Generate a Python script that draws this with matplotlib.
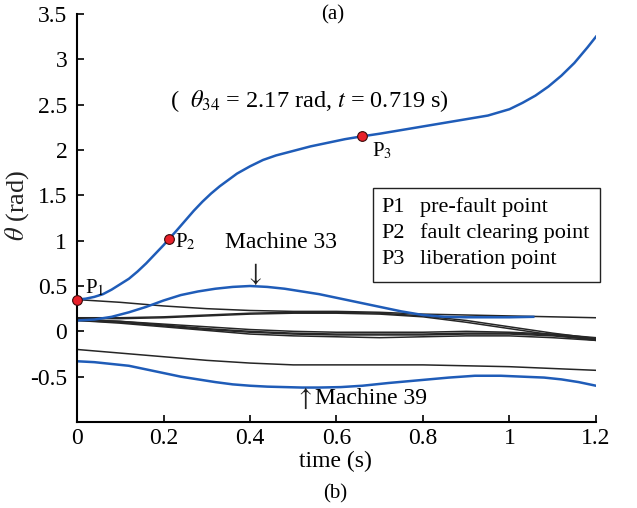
import numpy as np
import matplotlib
matplotlib.use('Agg')
import matplotlib.pyplot as plt
from matplotlib.patches import Rectangle

plt.rcParams['font.family'] = ['Liberation Serif', 'DejaVu Serif']
plt.rcParams['mathtext.fontset'] = 'stix'

# Machine 34 (the unstable one)
t34 = [0.00, 0.02, 0.04, 0.06, 0.08, 0.10, 0.12, 0.14, 0.16, 0.18, 0.20, 0.213, 0.23,
       0.25, 0.27, 0.29, 0.31, 0.33, 0.35, 0.37, 0.40, 0.43, 0.46, 0.50, 0.54, 0.58,
       0.62, 0.658, 0.70, 0.75, 0.80, 0.85, 0.90, 0.95, 1.00, 1.03, 1.06, 1.09, 1.12,
       1.15, 1.18, 1.20]
th34 = [0.35, 0.36, 0.38, 0.41, 0.46, 0.52, 0.58, 0.66, 0.75, 0.85, 0.95, 1.02, 1.11,
        1.22, 1.33, 1.43, 1.52, 1.60, 1.67, 1.74, 1.82, 1.89, 1.94, 1.99, 2.04, 2.08,
        2.12, 2.15, 2.18, 2.22, 2.26, 2.30, 2.34, 2.38, 2.45, 2.52, 2.60, 2.70, 2.82,
        2.96, 3.13, 3.25]

# Machine 33
t33 = [0.00, 0.04, 0.08, 0.12, 0.16, 0.20, 0.24, 0.28, 0.32, 0.36, 0.40, 0.44, 0.48,
       0.52, 0.56, 0.60, 0.65, 0.70, 0.75, 0.80, 0.85, 0.90, 0.95, 1.00, 1.055]
th33 = [0.12, 0.13, 0.16, 0.21, 0.27, 0.34, 0.40, 0.44, 0.47, 0.49, 0.50, 0.49, 0.47,
        0.44, 0.41, 0.37, 0.32, 0.27, 0.22, 0.18, 0.16, 0.155, 0.155, 0.155, 0.16]

# Machine 39
t39 = [0.00, 0.04, 0.08, 0.12, 0.16, 0.20, 0.24, 0.28, 0.32, 0.36, 0.40, 0.44, 0.48,
       0.52, 0.56, 0.61, 0.66, 0.72, 0.79, 0.86, 0.92, 0.98, 1.03, 1.08, 1.12, 1.16, 1.20]
th39 = [-0.33, -0.34, -0.36, -0.38, -0.42, -0.46, -0.50, -0.53, -0.56, -0.585, -0.60,
        -0.61, -0.615, -0.62, -0.62, -0.615, -0.60, -0.57, -0.54, -0.51, -0.49, -0.49,
        -0.50, -0.51, -0.53, -0.56, -0.60]

# remaining machines
t_other = [0.0, 0.1, 0.2, 0.3, 0.4, 0.5, 0.6, 0.7, 0.8, 0.9, 1.0, 1.1, 1.2]
th_other = [
    [0.35, 0.32, 0.28, 0.25, 0.23, 0.22, 0.22, 0.21, 0.19, 0.18, 0.17, 0.16, 0.15],
    [0.15, 0.15, 0.16, 0.18, 0.20, 0.21, 0.21, 0.20, 0.17, 0.12, 0.05, -0.02, -0.08],
    [0.14, 0.14, 0.15, 0.17, 0.19, 0.20, 0.20, 0.19, 0.16, 0.10, 0.03, -0.04, -0.10],
    [0.13, 0.11, 0.08, 0.05, 0.02, 0.00, -0.01, -0.01, -0.01, 0.00, -0.01, -0.03, -0.07],
    [0.12, 0.10, 0.06, 0.02, -0.01, -0.03, -0.04, -0.04, -0.04, -0.03, -0.03, -0.05, -0.09],
    [0.12, 0.09, 0.05, 0.01, -0.03, -0.05, -0.06, -0.07, -0.06, -0.05, -0.05, -0.07, -0.10],
    [0.13, 0.11, 0.07, 0.03, 0.00, -0.02, -0.03, -0.03, -0.03, -0.02, -0.02, -0.04, -0.08],
    [-0.20, -0.24, -0.28, -0.32, -0.35, -0.37, -0.37, -0.37, -0.37, -0.38, -0.39, -0.41, -0.43],
]

# marked points P1..P3 on machine 34
pt_t = [0.0, 0.213, 0.658]
pt_th = [0.35, 1.02, 2.15]

xticks = [0, 0.2, 0.4, 0.6, 0.8, 1, 1.2]
xtick_labels = ['0', '0.2', '0.4', '0.6', '0.8', '1', '1.2']
yticks = [-0.5, 0, 0.5, 1, 1.5, 2, 2.5, 3, 3.5]
ytick_labels = ['-0.5', '0', '0.5', '1', '1.5', '2', '2.5', '3', '3.5']

legend_keys = ['P1', 'P2', 'P3']
legend_desc = ['pre-fault point', 'fault clearing point', 'liberation point']

blue = '#1f5cb8'

fig = plt.figure(figsize=(6.37, 5.08), dpi=100)
ax = fig.add_axes([0.1209, 0.1693, 0.8147, 0.8031])

for th in th_other:
    ax.plot(t_other, th, color='#262626', lw=1.1)
ax.plot(t33, th33, color=blue, lw=1.8)
ax.plot(t39, th39, color=blue, lw=1.8)
ax.plot(t34, th34, color=blue, lw=1.8)
ax.plot(pt_t, pt_th, 'o', color='#e8202a', mec='#3a0a0a', mew=0.8, ms=7, clip_on=False, zorder=5)

ax.set_xlim(0, 1.2)
ax.set_ylim(-1, 3.5)
ax.set_xticks(xticks)
ax.set_xticklabels(xtick_labels)
ax.set_yticks(yticks)
ax.set_yticklabels(ytick_labels)
ax.tick_params(direction='in', length=5, width=1.2, labelsize=17)
ax.tick_params(axis='y', pad=7)
ax.tick_params(axis='x', pad=4)
for s in ['top', 'right']:
    ax.spines[s].set_visible(False)
for s in ['left', 'bottom']:
    ax.spines[s].set_linewidth(1.5)

ax.set_ylabel(r'$\theta$ (rad)', fontsize=19, color='#222222')
ax.yaxis.set_label_coords(-0.088, 0.532)

# point labels and annotations
ax.text(0.018, 0.36, r'P$_1$', fontsize=15, ha='left', va='bottom')
ax.text(0.227, 0.99, r'P$_2$', fontsize=15, ha='left', va='center')
ax.text(0.682, 1.99, r'P$_3$', fontsize=15, ha='left', va='center')
ax.text(0.215, 2.54, r'(  $\theta_{34}$ = 2.17 rad, $t$ = 0.719 s)', fontsize=17.5,
        ha='left', va='center')
ax.text(0.342, 0.98, 'Machine 33', fontsize=17, ha='left', va='center')
ax.text(0.41, 0.63, r'$\downarrow$', fontsize=19, ha='center', va='center', color='#222222')
ax.text(0.524, -0.74, r'$\uparrow$', fontsize=19, ha='center', va='center', color='#222222')
ax.text(0.55, -0.74, 'Machine 39', fontsize=17, ha='left', va='center')

# text legend box
ax.add_patch(Rectangle((0.570, 0.343), 0.438, 0.231, transform=ax.transAxes,
                       fill=False, lw=1.0, ec='#222222', clip_on=False))
for i, (k, d) in enumerate(zip(legend_keys, legend_desc)):
    y = (422 - (207 + 26 * i)) / 408
    ax.text((381 - 77) / 519, y, k, transform=ax.transAxes, fontsize=16, va='center')
    ax.text((420 - 77) / 519, y, d, transform=ax.transAxes, fontsize=16, va='center')

fig.text(333 / 637, 1 - 15 / 508, '(a)', fontsize=15, ha='center', va='center')
fig.text(335 / 637, 1 - 461 / 508, 'time (s)', fontsize=17, ha='center', va='center')
fig.text(335 / 637, 1 - 494 / 508, '(b)', fontsize=15, ha='center', va='center')

fig.savefig('out.png', dpi=100)
